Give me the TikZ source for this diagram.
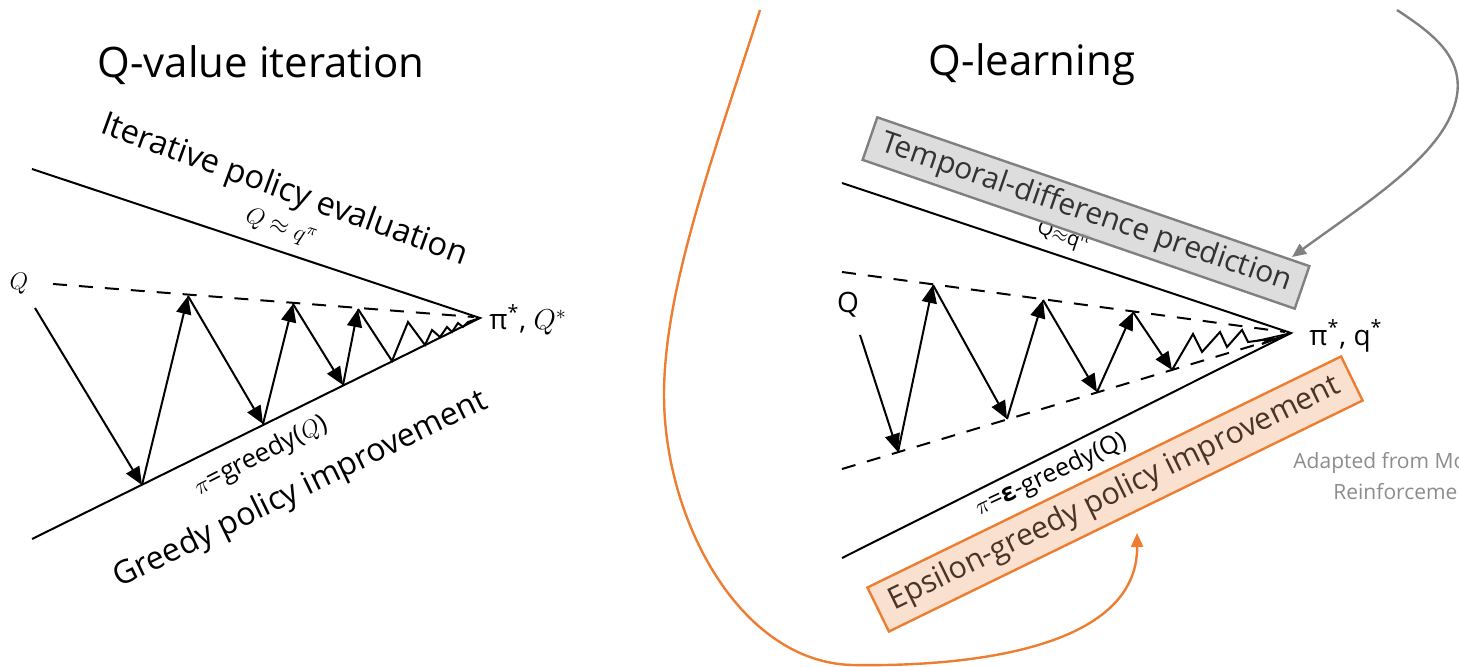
\documentclass[tikz,border=0pt]{standalone}
\usepackage{fontspec}
\setmainfont{Open Sans}
\usetikzlibrary{arrows.meta}
\definecolor{boxgray}{HTML}{D9D9D9}
\definecolor{edgegray}{HTML}{808080}
\definecolor{boxorange}{HTML}{F9DCC8}
\definecolor{edgeorange}{HTML}{ED7D31}
\definecolor{textbrown}{HTML}{4A3426}
\definecolor{notegray}{HTML}{8C8C8C}
\tikzset{
  solidl/.style={line width=1pt, black},
  dashl/.style={line width=1pt, black, dash pattern=on 7pt off 6pt},
  arr/.style={line width=1pt, -{Triangle[length=9pt,width=7.5pt]}},
  zig/.style={line width=1pt, line join=miter},
  title/.style={font=\fontsize{21pt}{25pt}\selectfont, inner sep=0pt},
  bigtxt/.style={font=\fontsize{16.3pt}{19pt}\selectfont, inner sep=0pt},
  smalltxt/.style={font=\fontsize{12pt}{14pt}\selectfont, inner sep=0pt},
  graybox/.style={draw=edgegray, line width=1.2pt, fill=boxgray, fill opacity=0.9, text opacity=1,
    text=black!80, font=\fontsize{15pt}{18pt}\selectfont, minimum width=228.5pt, minimum height=22.5pt, inner sep=0pt},
  orangebox/.style={draw=edgeorange, line width=1.2pt, fill=boxorange, fill opacity=0.88, text opacity=1,
    text=textbrown, font=\fontsize{15.2pt}{18pt}\selectfont, minimum width=263.5pt, minimum height=24.5pt, inner sep=0pt},
  note/.style={text=notegray, font=\fontsize{10.5pt}{12pt}\selectfont, inner sep=0pt, anchor=base west},
}
\begin{document}
\begin{tikzpicture}[x=0.5pt,y=-0.5pt]
\path[use as bounding box] (0,0) rectangle (1459,667);
\clip (0,0) rectangle (1459,667);

% ---------------- Left: Q-value iteration ----------------
\node[title] (t1) at (261,65) {Q-value iteration};

\coordinate (L1s) at (32,169);
\coordinate (Lap) at (480,318);
\coordinate (L2s) at (32,539);
\coordinate (Lds) at (53,284);
\coordinate (Lde) at (474,317);
\draw[solidl] (L1s) -- (Lap) -- (L2s);
\draw[dashl] (Lds) -- (Lde);

\node[inner sep=0pt, font=\fontsize{13pt}{15pt}\selectfont] (lq) at (19,284) {$Q$};
\node[inner sep=0pt, anchor=west, font=\fontsize{14pt}{16pt}\selectfont] (lstar) at (489,320) {π\textsuperscript{*}, $Q^*$};

\coordinate (a0) at (35,308);
\coordinate (a1) at (142,485);
\coordinate (a2) at (188,296);
\coordinate (a3) at (263,424);
\coordinate (a4) at (293,304);
\coordinate (a5) at (343,385);
\coordinate (a6) at (358,309);
\coordinate (a7) at (392,361);
\draw[arr] (a0) -- (a1);
\draw[arr] (a1) -- (a2);
\draw[arr] (a2) -- (a3);
\draw[arr] (a3) -- (a4);
\draw[arr] (a4) -- (a5);
\draw[arr] (a5) -- (a6);
\draw[zig] (a6) -- (a7) -- (408,322) -- (425,345) -- (432,330) -- (440,337) -- (447,327) -- (452,332)
  -- (458,323) -- (463,327) -- (468,322) -- (Lap);

\node[bigtxt, rotate=-20] (eval) at (284,191) {Iterative policy evaluation};
\node[smalltxt, rotate=-19] (lqq) at (281,228) {$Q \approx q^{\pi}$};
\node[smalltxt, font=\fontsize{13pt}{15pt}\selectfont, rotate=27] (lgreedy) at (261,456) {$\pi$=greedy($Q$)};
\node[bigtxt, font=\fontsize{16pt}{19pt}\selectfont, rotate=26] (impr) at (301,490) {Greedy policy improvement};

% ---------------- Right: Q-learning ----------------
\node[title] (t2) at (1032,65) {Q-learning};

\coordinate (R1s) at (842,183);
\coordinate (Rap) at (1291,333);
\coordinate (R2s) at (842,558);
\coordinate (Ru1) at (842,272);
\coordinate (Ru2) at (1285,332);
\coordinate (Rl1) at (842,469);
\coordinate (Rl2) at (1285,336);
\draw[solidl] (R1s) -- (Rap) -- (R2s);
\draw[dashl] (Ru1) -- (Ru2);
\draw[dashl] (Rl1) -- (Rl2);

\node[inner sep=0pt, font=\fontsize{14pt}{16pt}\selectfont] (rq) at (848,305) {Q};
\node[inner sep=0pt, anchor=west, font=\fontsize{14pt}{16pt}\selectfont] (rstar) at (1309,336) {π\textsuperscript{*}, q\textsuperscript{*}};

\coordinate (b0) at (860,335);
\coordinate (b1) at (898,452);
\coordinate (b2) at (933,285);
\coordinate (b3) at (1007,419);
\coordinate (b4) at (1043,300);
\coordinate (b5) at (1097,392);
\coordinate (b6) at (1133,312);
\coordinate (b7) at (1172,370);
\draw[arr] (b0) -- (b1);
\draw[arr] (b1) -- (b2);
\draw[arr] (b2) -- (b3);
\draw[arr] (b3) -- (b4);
\draw[arr] (b4) -- (b5);
\draw[arr] (b5) -- (b6);
\draw[arr] (b6) -- (b7);
\draw[zig] (b7) -- (1193,334) -- (1202,352) -- (1220,332) -- (1227,347) -- (1242,330) -- (1248,342)
  -- (1270,339) -- (1262,344) -- (Rap);
\draw[line width=0.8pt] (1256,341) -- (Rap);

\node[inner sep=0pt, font=\fontsize{10pt}{12pt}\selectfont, rotate=-19] (rqq) at (1063,237) {Q$\approx$q\textsuperscript{π}};
\node[inner sep=0pt, font=\fontsize{12.5pt}{14pt}\selectfont, rotate=25] (rgreedy) at (1051,475) {$\pi$=\textbf{ε}-greedy(Q)};

\node[graybox, rotate=-19] (td) at (1086,213) {Temporal-difference prediction};
\node[orangebox, rotate=26] (eps) at (1115,494) {Epsilon-greedy policy improvement};

% curved connectors
\coordinate (gs) at (1397,10);
\coordinate (gm) at (1457,95);
\coordinate (gtip) at (1292,257);
\draw[edgegray, line width=1.2pt, -{Triangle[length=7pt,width=6pt]}]
  (gs) .. controls (1430,32) and (1463,55) .. (gm) .. controls (1448,152) and (1370,200) .. (gtip);

\coordinate (os) at (760,10);
\coordinate (om1) at (664,395);
\coordinate (om2) at (852,665);
\coordinate (otip) at (1137,533);
\draw[edgeorange, line width=1.2pt, -{Triangle[length=7pt,width=6pt]}]
  (os) .. controls (712,160) and (664,290) .. (om1)
  .. controls (664,520) and (740,662) .. (om2)
  .. controls (965,667) and (1138,650) .. (otip);

% note
\node[note] (n1) at (1293,468) {Adapted from Mo};
\node[note] (n2) at (1333,499) {Reinforcemen};
\end{tikzpicture}
\end{document}
